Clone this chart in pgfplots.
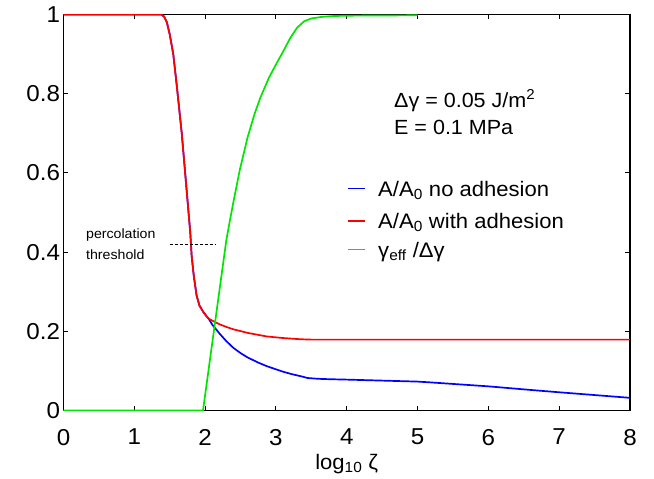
\documentclass[border=0pt]{standalone}
\usepackage{fontspec}
\setmainfont[FakeStretch=1.05]{Liberation Sans}
\usepackage{pgfplots}
\pgfplotsset{compat=1.18}
\definecolor{cblue}{RGB}{0,0,255}
\definecolor{cred}{RGB}{255,0,0}
\definecolor{cgreen}{RGB}{0,230,0}
\begin{document}
\begin{tikzpicture}
\path[use as bounding box] (-63.5bp,-68.3bp) rectangle (590.5bp,410.5bp);
\begin{axis}[
  at={(0,0)}, anchor=south west,
  scale only axis, width=566.5bp, height=396bp,
  xmin=0, xmax=8, ymin=0, ymax=1,
  xtick={0,1,...,8}, ytick={0,0.2,0.4,0.6,0.8,1},
  tick align=inside, major tick length=5bp,
  axis line style={line width=1.3bp},
  tick style={line width=0.9bp, black},
  /pgf/number format/assume math mode=true,
  ticklabel style={font=\fontsize{23bp}{27bp}\selectfont},
  yticklabel style={xshift=0bp},
  xticklabel style={yshift=-15bp},
  xlabel={log\textsubscript{10} ζ},
  xlabel style={font=\fontsize{21bp}{25bp}\selectfont, yshift=-2bp},
]
\addplot[cblue, line width=1.7bp] coordinates {
(0,1) (1.38,1) (1.42,0.995) (1.46,0.98) (1.50,0.95) (1.55,0.90) (1.60,0.82)
(1.67,0.70) (1.73,0.575) (1.79,0.45) (1.81,0.39) (1.84,0.34) (1.88,0.29)
(1.92,0.265) (1.97,0.25) (2.02,0.238) (2.05,0.232)
(2.10,0.217) (2.20,0.195) (2.30,0.175) (2.40,0.158) (2.50,0.145) (2.60,0.134) (2.75,0.121) (2.87,0.112)
(3.00,0.104) (3.10,0.098) (3.22,0.092) (3.34,0.087) (3.45,0.082) (3.60,0.080) (3.76,0.079) (4.0,0.078) (5.0,0.073)
(5.18,0.071) (6.0,0.061) (6.59,0.052) (7.0,0.046) (8.0,0.032)};
\addplot[cred, line width=1.7bp] coordinates {
(0,1) (1.38,1) (1.42,0.995) (1.46,0.98) (1.50,0.95) (1.55,0.90) (1.60,0.82)
(1.67,0.70) (1.73,0.575) (1.79,0.45) (1.81,0.39) (1.84,0.34) (1.88,0.29)
(1.92,0.265) (1.97,0.25) (2.02,0.238) (2.05,0.232)
(2.10,0.227) (2.20,0.218) (2.30,0.211) (2.40,0.205) (2.60,0.196) (2.87,0.187) (3.10,0.183)
(3.34,0.180) (3.50,0.179) (8.0,0.179)};
\addplot[cgreen, line width=1.7bp] coordinates {
(0,0) (1.97,0) (2.30,0.431) (2.35,0.48) (2.40,0.527) (2.49,0.608) (2.60,0.69) (2.70,0.75) (2.78,0.79)
(2.90,0.84) (3.01,0.877) (3.10,0.906) (3.20,0.94) (3.30,0.967) (3.40,0.983) (3.50,0.99)
(3.65,0.994) (3.80,0.996) (4.0,0.997) (5.0,0.998)};
% legend keys and labels
\draw[cblue, line width=1.4bp] (axis cs:4.018,0.560) -- (axis cs:4.258,0.560);
\draw[cred, line width=1.4bp] (axis cs:4.018,0.479) -- (axis cs:4.258,0.479);
\draw[cgreen, line width=1.4bp] (axis cs:4.018,0.406) -- (axis cs:4.258,0.406);
\node[anchor=base west, inner sep=0pt, font=\fontsize{21bp}{25bp}\selectfont] at (axis cs:4.442,0.541) {A/A\textsubscript{0} no adhesion};
\node[anchor=base west, inner sep=0pt, font=\fontsize{21bp}{25bp}\selectfont] at (axis cs:4.442,0.460) {A/A\textsubscript{0} with adhesion};
\node[anchor=base west, inner sep=0pt, font=\fontsize{21bp}{25bp}\selectfont] at (axis cs:4.442,0.387) {γ\textsubscript{eff} /Δγ};
\draw[densely dashed, line width=0.8bp] (axis cs:1.50,0.42) -- (axis cs:2.14,0.42);
\node[anchor=base west, font=\fontsize{13.5bp}{16bp}\selectfont] at (axis cs:0.27,0.435) {percolation};
\node[anchor=base west, font=\fontsize{13.5bp}{16bp}\selectfont] at (axis cs:0.27,0.382) {threshold};
\node[anchor=base west, font=\fontsize{20.5bp}{24bp}\selectfont] at (axis cs:4.62,0.766) {Δγ = 0.05 J/m\textsuperscript{2}};
\node[anchor=base west, font=\fontsize{20.5bp}{24bp}\selectfont] at (axis cs:4.62,0.698) {E = 0.1 MPa};
\end{axis}
\end{tikzpicture}
\end{document}
